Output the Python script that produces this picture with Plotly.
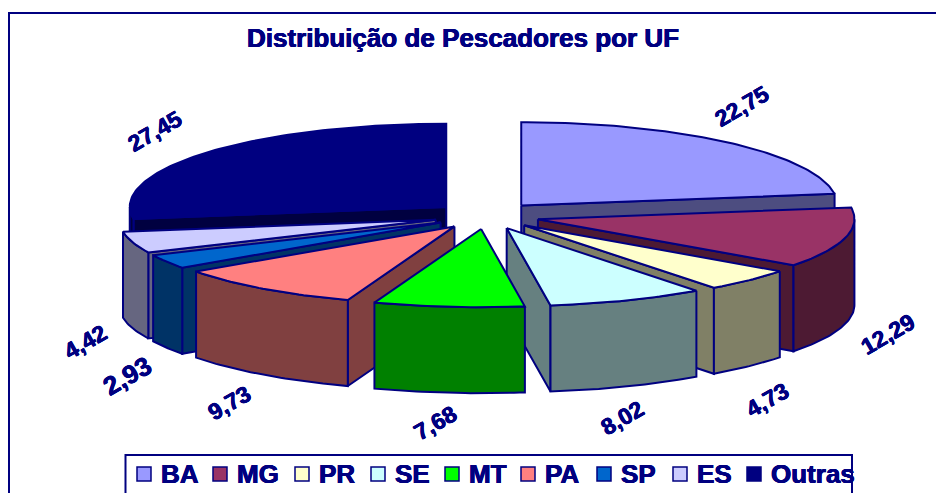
import math
import plotly.graph_objects as go

categories = ["BA", "MG", "PR", "SE", "MT", "PA", "SP", "ES", "Outras"]
values = [22.75, 12.29, 4.73, 8.02, 7.68, 9.73, 2.93, 4.42, 27.45]
top_colors = ["#9999FF", "#993366", "#FFFFCC", "#CCFFFF", "#00FF00", "#FF8080", "#0066CC", "#CCCCFF", "#000080"]
wall_colors = ["#4D4D80", "#4D1A33", "#808066", "#668080", "#008000", "#804040", "#003366", "#666680", "#000040"]

NAVY = "#000080"
FONT = "Liberation Sans"
SHADOW = "0.4px 0 0 #000080, -0.4px 0 0 #000080, 0 0.3px 0 #000080"
CX, CY, R, EXPLODE, THICK = 486.5, 216, 316.5, 53, 86
K_BACK, K_FRONT = 0.263, 0.247
LINE = 2

label_pos = [(742, 106, -30, 23), (888, 334, -30, 23), (767, 400, -30, 23), (622, 418, -30, 23), (435, 423, -30, 23),
             (229, 403, -30, 23), (127, 376, -30, 26), (85, 342, -30, 23), (155, 131, -30, 23)]
swatch_x = [137, 213, 295, 371, 445, 521, 597, 673, 747]


def project(ox, oy, r, ang):
    dx = r * math.sin(ang)
    dy = r * math.cos(ang)
    return ox + dx, oy - dy * (K_BACK if dy > 0 else K_FRONT)


def arc(ox, oy, a0, a1):
    n = max(2, int(abs(a1 - a0) / math.radians(1)) + 1)
    return [project(ox, oy, R, a0 + (a1 - a0) * i / n) for i in range(n + 1)]


def poly(fig, pts, fill, width=LINE):
    fig.add_trace(go.Scatter(x=[p[0] for p in pts] + [pts[0][0]], y=[p[1] for p in pts] + [pts[0][1]],
                             mode="lines", fill="toself", fillcolor=fill, line=dict(color=NAVY, width=width),
                             hoverinfo="skip", showlegend=False))


def down(pts):
    return [(x, y + THICK) for x, y in reversed(pts)]


total = sum(values)
slices = []
cum = 0.0
for i, v in enumerate(values):
    a0 = cum / total * 2 * math.pi
    cum += v
    a1 = cum / total * 2 * math.pi
    slices.append((i, a0, a1))

fig = go.Figure()
for i, a0, a1 in sorted(slices, key=lambda s: -math.cos((s[1] + s[2]) / 2)):
    mid = (a0 + a1) / 2
    ox = CX + EXPLODE * math.sin(mid)
    oy = CY - EXPLODE * math.cos(mid) * (K_BACK if math.cos(mid) > 0 else K_FRONT)
    outer = arc(ox, oy, a0, a1)
    wall = wall_colors[i]
    if math.sin(a0) < 0:
        e = [(ox, oy), outer[0]]
        poly(fig, e + down(e), wall)
    if math.sin(a1) > 0:
        e = [(ox, oy), outer[-1]]
        poly(fig, e + down(e), wall)
    lo, hi = max(a0, math.pi / 2), min(a1, 3 * math.pi / 2)
    if hi > lo:
        w = arc(ox, oy, lo, hi)
        poly(fig, w + down(w), wall)
    poly(fig, [(ox, oy)] + outer, top_colors[i])

shapes = [
    dict(type="rect", x0=9, y0=13, x1=960, y1=520, line=dict(color=NAVY, width=2), fillcolor="rgba(0,0,0,0)", layer="below"),
    dict(type="rect", x0=125.5, y0=455, x1=852, y1=520, line=dict(color=NAVY, width=2), fillcolor="#FFFFFF", layer="below"),
]
annotations = [dict(x=462.5, y=38, text="<b>Distribuição de Pescadores por UF</b>", showarrow=False,
                    font=dict(family=FONT, size=26, color=NAVY, shadow=SHADOW))]

for v, (x, y, rot, size) in zip(values, label_pos):
    annotations.append(dict(x=x, y=y, text="<b>%s</b>" % f"{v:.2f}".replace(".", ","), showarrow=False, textangle=rot,
                            font=dict(family=FONT, size=size, color=NAVY, shadow=SHADOW)))

for c, col, x in zip(categories, top_colors, swatch_x):
    shapes.append(dict(type="rect", x0=x, x1=x + 14, y0=467, y1=481, fillcolor=col, line=dict(color=NAVY, width=1.5)))
    annotations.append(dict(x=x + 22, y=474, text="<b>%s</b>" % c, showarrow=False, xanchor="left",
                            font=dict(family=FONT, size=26, color=NAVY, shadow=SHADOW)))

for a in annotations:
    a.update(xref="x", yref="y")

fig.update_layout(width=936, height=493, margin=dict(l=0, r=0, t=0, b=0), paper_bgcolor="#FFFFFF", plot_bgcolor="#FFFFFF",
                  xaxis=dict(range=[0, 936], visible=False, fixedrange=True),
                  yaxis=dict(range=[493, 0], visible=False, fixedrange=True),
                  shapes=shapes, annotations=annotations, showlegend=False)
fig.write_html("out.html", config={"displayModeBar": False},
               post_script="document.body.style.margin='0';document.documentElement.style.overflow='hidden';")
